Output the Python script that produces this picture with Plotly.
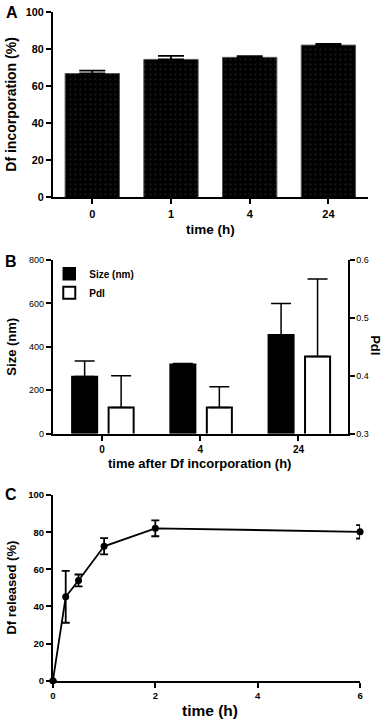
import plotly.graph_objects as go

# ---------------- data ----------------
# Panel A: Df incorporation over time
a_times = ["0", "1", "4", "24"]
a_incorp = [66.8, 74.4, 75.5, 82.1]
a_err = [1.6, 1.9, 0.7, 0.6]

# Panel B: size and PdI after incorporation
b_times = ["0", "4", "24"]
b_size = [263, 319, 455]
b_size_err = [71, 4, 144]
b_pdi = [0.345, 0.345, 0.433]
b_pdi_err = [0.055, 0.036, 0.134]

# Panel C: Df release kinetics
c_time = [0, 0.25, 0.5, 1, 2, 6]
c_release = [0, 45.2, 54.0, 72.4, 82.1, 80.2]
c_err = [0, 14.0, 3.2, 4.4, 4.3, 3.6]

W, H = 387, 725
FONT = "Liberation Sans, Arial, Helvetica, sans-serif"


def px(x):
    return x / W


def py(y):
    return 1 - y / H


fig = go.Figure()

# ---- Panel A ----
fig.add_trace(go.Bar(
    x=a_times, y=a_incorp, xaxis="x", yaxis="y", width=0.69,
    marker=dict(color="black", line=dict(color="#555555", width=1),
                pattern=dict(shape=".", fgcolor="#3a3a3a", bgcolor="black", size=5, solidity=0.15)),
    error_y=dict(type="data", array=a_err, arrayminus=[0] * len(a_err), symmetric=False,
                 color="black", thickness=1.8, width=13),
    showlegend=False,
))

# ---- Panel B ----
fig.add_trace(go.Bar(
    x=b_times, y=b_size, xaxis="x2", yaxis="y2", name="Size (nm)",
    offset=-0.307, width=0.26,
    marker=dict(color="black", line=dict(color="black", width=1.5)),
    error_y=dict(type="data", array=b_size_err, arrayminus=[0] * len(b_size_err), symmetric=False,
                 color="black", thickness=1.5, width=10),
))
fig.add_trace(go.Bar(
    x=b_times, y=b_pdi, xaxis="x2", yaxis="y3", name="PdI",
    offset=0.067, width=0.255,
    marker=dict(color="white", line=dict(color="black", width=2)),
    error_y=dict(type="data", array=b_pdi_err, arrayminus=[0] * len(b_pdi_err), symmetric=False,
                 color="black", thickness=1.5, width=10),
))

# ---- Panel C ----
fig.add_trace(go.Scatter(
    x=c_time, y=c_release, xaxis="x3", yaxis="y4", mode="lines+markers",
    line=dict(color="black", width=1.8),
    marker=dict(color="black", size=7),
    error_y=dict(type="data", array=c_err, color="black", thickness=1.8, width=4),
    cliponaxis=False, showlegend=False,
))

axis_common = dict(showline=True, linecolor="black", linewidth=2, ticks="outside",
                   ticklen=5, tickwidth=2, tickcolor="black", showgrid=False, zeroline=False,
                   fixedrange=True)

fig.update_layout(
    width=W, height=H,
    margin=dict(l=0, r=0, t=0, b=0),
    paper_bgcolor="white", plot_bgcolor="white",
    barmode="overlay",
    font=dict(family=FONT, color="black"),
    xaxis=dict(domain=[px(50.7), px(370.5)], anchor="y", type="category", range=[-0.5, 3.5],
               tickfont=dict(size=11, weight="bold"), **axis_common),
    yaxis=dict(domain=[py(194.7), py(6)], anchor="x", range=[0, 100], dtick=20,
               tickfont=dict(size=10.8, weight="bold"), **axis_common),
    xaxis2=dict(domain=[px(50.7), px(350)], anchor="y2", type="category", range=[-0.5, 2.5],
                tickfont=dict(size=10, weight="bold"), **axis_common),
    yaxis2=dict(domain=[py(434.7), py(258.3)], anchor="x2", range=[0, 800], dtick=200,
                tickfont=dict(size=9), **axis_common),
    yaxis3=dict(overlaying="y2", anchor="x2", side="right", range=[0.3, 0.6], dtick=0.1,
                tickformat=".1f", tickfont=dict(size=9), **axis_common),
    xaxis3=dict(domain=[px(50.7), px(362.7)], anchor="y4", range=[0, 6], dtick=2,
                tickfont=dict(size=9.5, weight="bold"), **axis_common),
    yaxis4=dict(domain=[py(686), py(497.3)], anchor="x3", range=[0, 100], dtick=20,
                tickfont=dict(size=9.5, weight="bold"), **axis_common),
    legend=dict(x=px(47), y=py(257.5), xanchor="left", yanchor="top",
                bgcolor="rgba(0,0,0,0)", font=dict(size=10, weight="bold"),
                itemclick=False, itemdoubleclick=False),
)


def label(text, x, y, size, angle=0, bold=True):
    fig.add_annotation(text=text, x=px(x), y=py(y), xref="paper", yref="paper",
                       showarrow=False, textangle=angle, xanchor="center", yanchor="middle",
                       font=dict(size=size, family=FONT, color="black",
                                 weight="bold" if bold else "normal"))


# panel letters
label("A", 9, 7, 16)
label("B", 8, 260, 16)
label("C", 8, 497, 16)

# axis titles
label("Df incorporation (%)", 8.5, 100, 14, angle=-90)
label("time (h)", 210.6, 227, 13.5)
label("Size (nm)", 8.5, 346, 13, angle=-90)
label("PdI", 379, 345, 13, angle=90)
label("time after Df incorporation (h)", 200, 465, 13)
label("Df released (%)", 8.5, 591, 13, angle=-90)
label("time (h)", 210, 716, 15.5)

# remove the default page margin so the figure sits at the window's origin
fig.write_html("out.html", config={"displayModeBar": False, "staticPlot": True},
               post_script="document.body.style.margin='0';")
